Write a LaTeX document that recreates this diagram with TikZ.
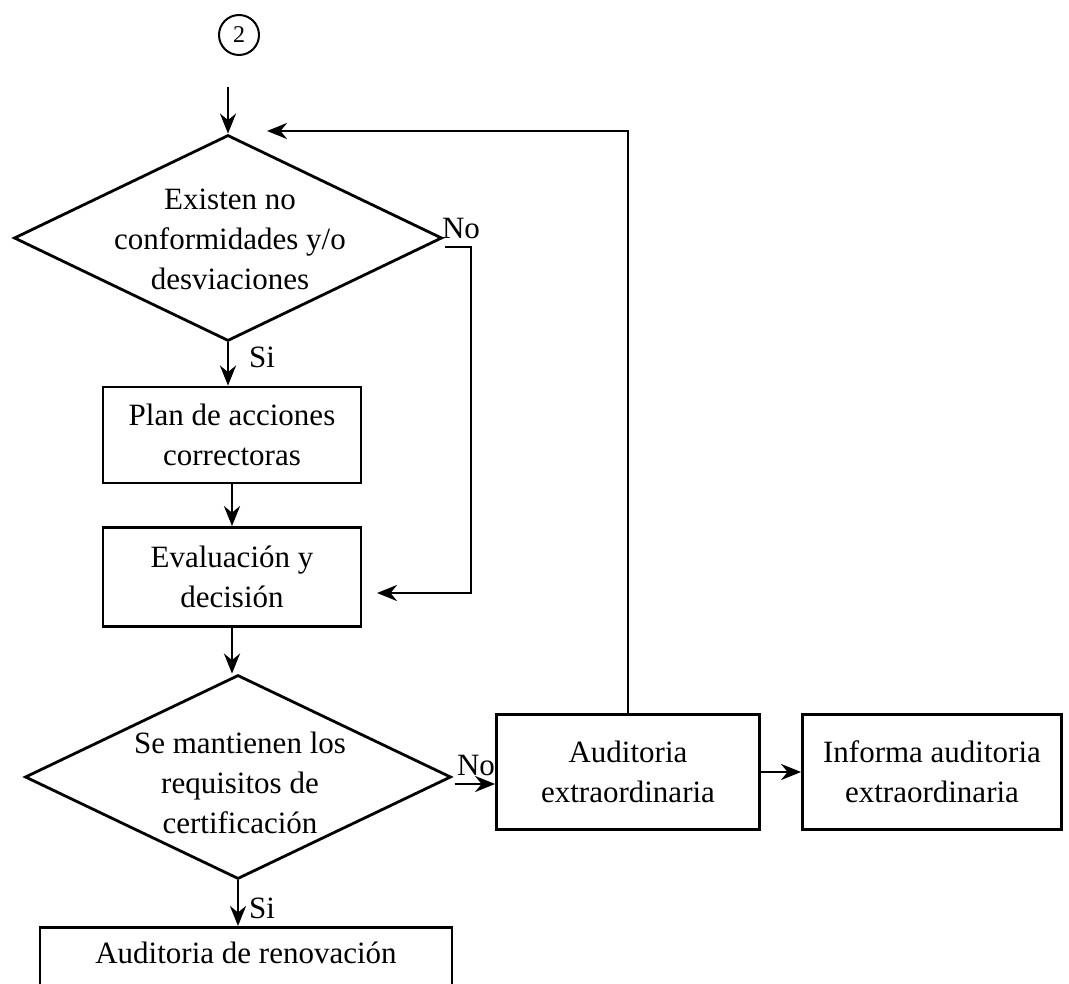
\documentclass[tikz,border=0pt]{standalone}
\usepackage{fontspec}
\setmainfont{Liberation Serif}
\usetikzlibrary{arrows.meta,shapes.geometric,calc}
\begin{document}
\begin{tikzpicture}[x=1pt,y=-1pt,
  line width=2.8pt,
  txt/.style={font=\fontsize{31}{40}\selectfont,align=center},
  dia/.style={diamond,draw,inner sep=0pt},
  box/.style={rectangle,draw,txt,inner sep=0pt},
  arr/.style={-{Stealth[length=20pt,width=16pt]}},
  lbl/.style={font=\fontsize{31}{34}\selectfont,inner sep=0pt}]
\path[use as bounding box,clip] (0,0) rectangle (1069,984);

\node[circle,draw,minimum size=40pt,inner sep=0pt,line width=2pt,font=\fontsize{24}{26}\selectfont] (c2) at (239,35) {2};

\node[dia,minimum width=428pt,minimum height=206pt] (d1) at (228,238) {};
\coordinate (s0) at ($(d1.north)+(0,-47)$);
\node[txt] (t1) at (230,239) {Existen no\\conformidades y/o\\desviaciones};

\node[box,minimum width=258pt,minimum height=96pt] (b1) at (232,435) {Plan de acciones\\correctoras};
\node[box,minimum width=258pt,minimum height=99pt] (b2) at (232,577) {Evaluación y\\decisión};

\node[dia,minimum width=426pt,minimum height=204pt] (d2) at (238,777) {};
\node[txt] (t2) at (240,783) {Se mantienen los\\requisitos de\\certificación};

\node[box,minimum width=263pt,minimum height=115pt] (b3) at (628,772) {Auditoria\\extraordinaria};
\node[box,minimum width=259pt,minimum height=115pt] (b4) at (932,772) {Informa auditoria\\extraordinaria};

\node[box,anchor=north,minimum width=412pt,text height=31pt,text depth=60pt,inner ysep=5pt] (b5) at (246,926) {Auditoria de renovación};

% connectors
\draw[arr] (s0) -- (d1.north);
\draw[arr] (d1.south) -- (d1.south |- b1.north);
\draw[arr] (b1.south) -- (b2.north);
\draw[arr] (b2.south) -- (b2.south |- d2.north);
\draw[arr] (d2.south) -- (d2.south |- b5.north);

\coordinate (p1) at ($(d1.east)+(2,9)$);
\coordinate (r1) at (471,593);
\coordinate (e1) at (377,593);
\draw[arr] (p1) -| (r1) -- (e1);

\coordinate (p2) at ($(d2.east)+(3,7)$);
\draw[arr] (p2) -- (p2 -| b3.west);
\draw[arr] (b3.east) -- (b4.west);

\coordinate (t0) at (267,131);
\draw[arr] (b3.north) |- (t0);

% labels
\node[lbl] (n1) at (461,229) {No};
\node[lbl] (n2) at (476,765) {No};
\node[lbl] (y1) at (262,357) {Si};
\node[lbl] (y2) at (262,908) {Si};
\end{tikzpicture}
\end{document}
